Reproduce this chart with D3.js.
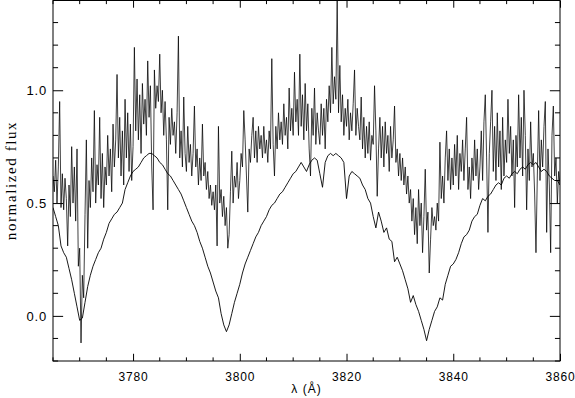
<!DOCTYPE html>
<html>
<head>
<meta charset="utf-8">
<script src="https://cdn.jsdelivr.net/npm/d3@7"></script>
<style>
  body{margin:0;background:#fff}
  svg{display:block}
  text{fill:#000}
</style>
</head>
<body>
<script>
// observed spectrum, sampled every 0.25 A from 3765
const obsStart = 3765, obsStep = 0.25
const obsFlux = [
  0.62,0.55,0.69,0.50,0.66,0.95,0.48,0.63,0.47,0.61,0.52,0.31,0.58,0.44,0.75,0.50,0.66,0.42,0.74,0.22,
  0.30,-0.12,0.18,0.08,0.45,0.78,0.30,0.60,0.48,0.70,0.55,0.91,0.50,0.67,0.58,0.88,0.52,0.72,0.48,0.66,
  0.58,0.80,0.62,0.74,0.55,0.85,0.66,0.78,1.07,0.70,0.88,0.62,0.82,0.58,0.96,0.70,0.90,0.64,0.85,0.60,
  0.75,1.19,0.82,1.05,0.78,0.98,0.72,1.03,0.85,0.96,0.80,1.13,0.88,1.02,0.66,0.47,1.09,0.92,1.02,0.95,
  1.16,0.90,1.00,0.80,0.95,0.78,0.47,0.88,0.76,0.92,0.80,0.86,0.72,0.90,1.24,0.70,0.82,0.66,0.97,0.72,
  0.64,0.84,0.68,0.76,0.62,0.72,0.93,0.66,0.74,0.58,0.70,0.60,0.85,0.62,0.68,0.56,0.64,0.52,0.58,0.49,
  0.55,0.47,0.58,0.31,0.84,0.50,0.56,0.44,0.53,0.40,0.48,0.30,0.36,0.55,0.73,0.50,0.62,0.57,0.68,0.52,
  0.60,0.72,0.66,0.91,0.78,0.62,0.46,0.74,0.68,0.80,0.88,0.70,0.82,0.68,0.84,0.74,0.80,0.70,0.84,0.72,
  0.78,0.68,0.82,0.74,1.14,0.76,0.62,0.84,0.74,0.90,0.78,0.86,0.76,0.94,0.80,0.88,0.74,1.01,0.82,0.92,
  0.80,1.08,0.86,0.96,0.80,1.16,0.84,0.98,0.78,1.03,0.82,0.94,0.74,0.62,0.92,0.80,1.01,0.76,0.90,0.82,
  0.76,0.94,0.80,0.92,0.74,0.96,0.86,1.02,0.90,1.19,0.94,1.06,0.96,1.40,0.90,1.11,0.86,0.98,0.80,0.92,
  0.84,0.96,0.78,0.90,0.82,0.94,1.09,0.80,0.92,0.84,0.78,0.97,0.74,0.88,0.70,0.84,0.72,0.86,0.69,0.80,
  0.76,1.02,0.82,0.53,0.74,0.88,0.70,0.84,0.66,0.86,0.72,0.80,0.64,0.84,0.70,0.78,0.93,0.68,0.74,0.62,
  0.72,0.60,0.70,0.58,0.66,0.54,0.62,0.50,0.56,0.42,0.52,0.36,0.48,0.32,0.56,0.40,0.50,0.28,0.44,0.65,
  0.38,0.46,0.19,0.34,0.48,0.40,0.44,0.38,0.50,0.42,0.77,0.52,0.62,0.50,0.70,0.82,0.60,0.74,0.56,0.70,
  0.58,0.76,0.62,0.80,0.56,0.72,0.64,0.78,0.60,0.74,0.88,0.56,0.66,0.52,0.70,0.60,0.78,0.62,0.74,0.56,
  0.66,0.82,0.60,0.86,0.98,0.70,0.37,0.72,0.86,1.00,0.64,0.84,0.60,0.90,0.66,0.82,0.56,0.88,0.62,0.78,
  0.68,0.96,0.72,0.84,0.62,0.78,0.48,0.80,0.66,0.98,0.70,0.88,0.62,1.00,0.80,0.47,0.74,0.60,0.86,0.66,
  0.72,0.54,0.28,0.62,0.91,0.60,0.78,0.66,0.84,0.95,0.37,0.74,0.58,0.28,0.80,0.93,0.62,0.70,0.50,0.64,
  0.58
]
// model spectrum, sampled every 0.5 A from 3765
const modelStart = 3765, modelStep = 0.5
const modelFlux = [
  0.48,0.44,0.40,0.31,0.28,0.26,0.21,0.16,0.10,0.04,
  -0.02,-0.01,0.06,0.13,0.18,0.22,0.25,0.28,0.30,0.34,
  0.37,0.41,0.43,0.45,0.46,0.48,0.50,0.56,0.59,0.62,
  0.64,0.65,0.66,0.68,0.70,0.71,0.72,0.72,0.71,0.70,
  0.68,0.67,0.65,0.63,0.62,0.60,0.58,0.56,0.54,0.51,
  0.48,0.45,0.42,0.40,0.37,0.33,0.30,0.26,0.22,0.19,
  0.15,0.11,0.08,0.01,-0.04,-0.07,-0.04,0.01,0.06,0.10,
  0.14,0.19,0.23,0.26,0.29,0.32,0.35,0.37,0.40,0.42,
  0.44,0.47,0.49,0.50,0.52,0.54,0.55,0.57,0.59,0.61,
  0.63,0.64,0.66,0.68,0.66,0.64,0.67,0.69,0.70,0.69,
  0.63,0.57,0.68,0.71,0.72,0.71,0.72,0.71,0.70,0.68,
  0.52,0.62,0.64,0.63,0.62,0.61,0.58,0.56,0.52,0.50,
  0.44,0.39,0.46,0.42,0.37,0.39,0.34,0.33,0.24,0.26,
  0.23,0.20,0.16,0.12,0.06,0.09,0.05,0.02,-0.02,-0.06,
  -0.11,-0.06,-0.02,0.02,0.04,0.08,0.07,0.14,0.18,0.22,
  0.23,0.25,0.28,0.32,0.35,0.36,0.38,0.42,0.44,0.45,
  0.49,0.52,0.51,0.53,0.54,0.56,0.58,0.59,0.58,0.61,
  0.62,0.61,0.63,0.64,0.63,0.65,0.66,0.65,0.67,0.68,
  0.67,0.68,0.66,0.64,0.65,0.64,0.62,0.61,0.60,0.60,
  0.58
]
const xDomain = [3765, 3860]
const yDomain = [-0.2, 1.4]
const xTickLabels = [3780, 3800, 3820, 3840, 3860]
const yTickLabels = [0.0, 0.5, 1.0]
const xLabel = "λ (Å)"
const yLabel = "normalized flux"

const W = 575, H = 398
const m = {left:53, right:15, top:0, bottom:37}
const pw = W - m.left - m.right, ph = H - m.top - m.bottom

const x = d3.scaleLinear().domain(xDomain).range([m.left, m.left + pw])
const y = d3.scaleLinear().domain(yDomain).range([m.top + ph, m.top])

const obs = obsFlux.map((f,i)=>({w:obsStart + i*obsStep, f}))
const model = modelFlux.map((f,i)=>({w:modelStart + i*modelStep, f}))

const svg = d3.select("body").append("svg").attr("width",W).attr("height",H)

svg.append("clipPath").attr("id","plot")
  .append("rect").attr("x",m.left).attr("y",m.top).attr("width",pw).attr("height",ph)

const line = d3.line().x(d=>x(d.w)).y(d=>y(d.f))

svg.append("path").datum(obs)
  .attr("d",line).attr("fill","none")
  .attr("stroke","#000").attr("stroke-width",0.75)
  .attr("clip-path","url(#plot)")
svg.append("path").datum(model)
  .attr("d",line).attr("fill","none")
  .attr("stroke","#000").attr("stroke-width",0.9)
  .attr("clip-path","url(#plot)")

// IDL style axes: ticks inside, all four sides
const xMinor = d3.range(3765, 3861, 5).filter(v=>v % 20 !== 0)
const yMinor = d3.range(-0.2, 1.41, 0.1).map(v=>+v.toFixed(1)).filter(v=>Math.abs((v*2) % 1) > 0.01)
const xTl = ph*0.02, yTl = pw*0.02

function xAxis(g, orient, labels){
  const ax = (orient==="bottom"? d3.axisBottom(x) : d3.axisTop(x))
    .tickValues(xTickLabels).tickSizeInner(-xTl).tickSizeOuter(0).tickPadding(11)
    .tickFormat(labels ? d3.format("d") : "")
  g.call(ax)
  g.append("g").selectAll("line").data(xMinor).join("line")
    .attr("x1",d=>x(d)).attr("x2",d=>x(d))
    .attr("y1",0).attr("y2",orient==="bottom"? -xTl/2 : xTl/2)
}
function yAxis(g, orient, labels){
  const ax = (orient==="left"? d3.axisLeft(y) : d3.axisRight(y))
    .tickValues(yTickLabels).tickSizeInner(-yTl).tickSizeOuter(0).tickPadding(6)
    .tickFormat(labels ? d3.format(".1f") : "")
  g.call(ax)
  g.append("g").selectAll("line").data(yMinor).join("line")
    .attr("y1",d=>y(d)).attr("y2",d=>y(d))
    .attr("x1",0).attr("x2",orient==="left"? yTl/2 : -yTl/2)
}

const gb = svg.append("g").attr("transform",`translate(0,${m.top+ph})`)
xAxis(gb,"bottom",true)
const gt = svg.append("g").attr("transform",`translate(0,${m.top+0.5})`)
xAxis(gt,"top",false)
const gl = svg.append("g").attr("transform",`translate(${m.left},0)`)
yAxis(gl,"left",true)
const gr = svg.append("g").attr("transform",`translate(${m.left+pw},0)`)
yAxis(gr,"right",false)

svg.selectAll(".domain").remove()
svg.append("rect").attr("x",m.left).attr("y",m.top+0.5).attr("width",pw).attr("height",ph-0.5)
  .attr("fill","none").attr("stroke","#000").attr("stroke-width",1)

svg.selectAll("line").attr("stroke","#000").attr("stroke-width",1)
svg.selectAll(".tick text")
  .attr("font-family","'Liberation Sans', Arial, sans-serif")
  .attr("font-size",12).attr("letter-spacing",0.8).attr("fill","#000")
gl.selectAll(".tick text").attr("font-size",13)

svg.append("text")
  .attr("x",m.left + pw/2).attr("y",393)
  .attr("text-anchor","middle")
  .attr("font-family","'Liberation Sans', Arial, sans-serif").attr("font-size",12)
  .attr("letter-spacing",1)
  .text(xLabel)

svg.append("text")
  .attr("transform",`translate(16,${y(0.6)}) rotate(-90)`)
  .attr("text-anchor","middle")
  .attr("font-family","'Liberation Serif', 'Times New Roman', serif").attr("font-size",15)
  .attr("letter-spacing",1.6)
  .text(yLabel)
</script>
</body>
</html>
